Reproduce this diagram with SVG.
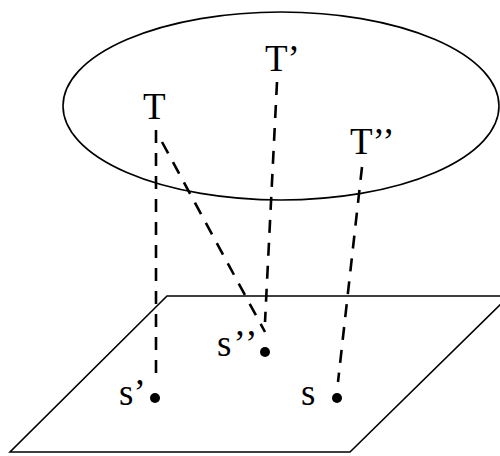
<svg xmlns="http://www.w3.org/2000/svg" width="500" height="456" viewBox="0 0 500 456">
<style>
.outline{fill:none;stroke:#000;stroke-width:1.6}
.dash{fill:none;stroke:#000;stroke-width:2.6;stroke-dasharray:13 10}
.lbl{font-family:"Liberation Serif",serif;font-size:37px;fill:#000}
.dot{fill:#000}
</style>
<rect width="500" height="456" fill="#fff"/>
<g id="ellipse"><ellipse class="outline" cx="281" cy="106" rx="218" ry="94"/></g>
<g id="plane"><polygon class="outline" points="167,296 509,296 350,452 10,452"/></g>
<g id="connectors">
<line class="dash" x1="156" y1="130" x2="156" y2="382"/>
<line class="dash" x1="162" y1="142" x2="265" y2="332"/>
<line class="dash" x1="277" y1="82" x2="265" y2="322"/>
<line class="dash" x1="362" y1="167" x2="338" y2="382"/>
</g>
<g id="T"><text class="lbl" x="143" y="119">T</text></g>
<g id="T1"><text class="lbl" x="265" y="71">T’</text></g>
<g id="T2"><text class="lbl" x="350" y="154">T’’</text></g>
<g id="s1"><text class="lbl" x="119" y="405">s’</text><circle class="dot" cx="155" cy="398" r="5"/></g>
<g id="s2"><text class="lbl" x="217" y="356" letter-spacing="2">s’’</text><circle class="dot" cx="265" cy="352" r="5"/></g>
<g id="s"><text class="lbl" x="301" y="405">s</text><circle class="dot" cx="337" cy="398" r="5"/></g>
</svg>
